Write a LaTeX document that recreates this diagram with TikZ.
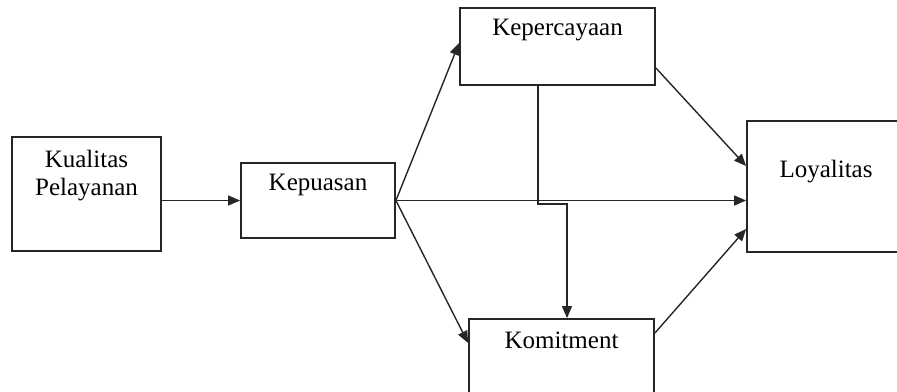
\documentclass[tikz,border=0pt]{standalone}
\usepackage{fontspec}
\setmainfont{Liberation Serif}
\usetikzlibrary{positioning, arrows.meta}

\begin{document}
\begin{tikzpicture}[x=0.5pt, y=-0.5pt,
    box/.style={draw, line width=0.9pt, black!85, inner sep=0pt},
    txt/.style={font=\fontsize{12.5}{14}\selectfont, align=center, anchor=north, inner sep=0pt},
    arr/.style={-{Triangle[length=6pt, width=5pt]}, line width=0.7pt, black!85}
  ]
  \useasboundingbox (0,0) rectangle (897,391);
  \clip (0,0) rectangle (897,391);

  \node[box, minimum width=74.5pt, minimum height=57pt] (kualitas) at (86.5,194) {};
  \node[box, minimum width=77pt, minimum height=37.5pt] (kepuasan) at (318,200.5) {};
  \node[box, minimum width=97.5pt, minimum height=38.5pt] (percaya) at (557.5,46.5) {};
  \node[box, minimum width=92.5pt, minimum height=38.5pt] (komit) at (561.5,357.5) {};
  \node[box, minimum width=79pt, minimum height=65.5pt] (loyal) at (826,186.5) {};

  \node[txt] (kualitasT) at ([yshift=-7pt]kualitas.north) {Kualitas\\Pelayanan};
  \node[txt] (kepuasanT) at ([yshift=-5.75pt]kepuasan.north) {Kepuasan};
  \node[txt] (percayaT) at ([yshift=-5.75pt]percaya.north) {Kepercayaan};
  \node[txt] (komitT) at ([yshift=-6.5pt]komit.north) {Komitment};
  \node[txt] (loyalT) at ([yshift=-20pt]loyal.north) {Loyalitas};

  \draw[arr] ([xshift=-0.5pt]kualitas.east |- kepuasan.west) -- (kepuasan.west);
  \draw[arr] (kepuasan.east) -- ([yshift=1.75pt]percaya.west);
  \draw[arr] (kepuasan.east) -- (loyal.west |- kepuasan.east);
  \draw[arr] (kepuasan.east) -- ([yshift=7.25pt]komit.west);
  \draw[arr] ([xshift=-9.75pt]percaya.south) -- ++(0,118) -| ([xshift=2.75pt]komit.north);
  \draw[arr] ([yshift=-10.75pt]percaya.east) -- ([yshift=10.25pt]loyal.west);
  \draw[arr] ([yshift=12.25pt]komit.east) -- ([yshift=-21.25pt]loyal.west);
\end{tikzpicture}
\end{document}
